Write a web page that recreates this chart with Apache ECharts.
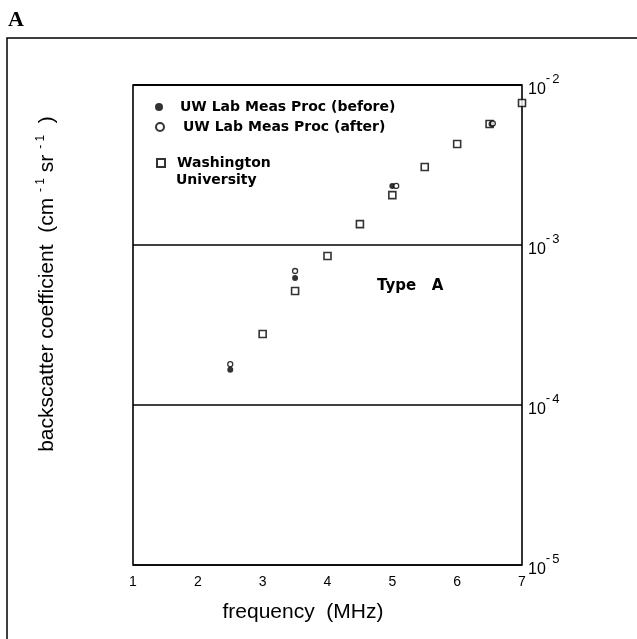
<!DOCTYPE html>
<html>
<head>
<meta charset="utf-8">
<script src="https://cdn.jsdelivr.net/npm/echarts@6/dist/echarts.min.js"></script>
<style>
  html, body { margin: 0; padding: 0; background: #fff; }
  #chart { width: 637px; height: 639px; }
</style>
</head>
<body>
<div id="chart"></div>
<script>
// frequency (MHz) vs backscatter coefficient
var xTicks = [1, 2, 3, 4, 5, 6, 7]
var yDecades = [1e-5, 1e-4, 1e-3, 1e-2]

var uwBefore = [[2.5, 1.66e-4], [3.5, 6.22e-4], [5.0, 2.34e-3], [6.53, 5.7e-3]]
var uwAfter = [[2.5, 1.80e-4], [3.5, 6.88e-4], [5.06, 2.34e-3], [6.55, 5.75e-3]]
var washU = [
  [3.0, 2.78e-4], [3.5, 5.16e-4], [4.0, 8.53e-4], [4.5, 1.35e-3], [5.0, 2.05e-3],
  [5.5, 3.07e-3], [6.0, 4.28e-3], [6.5, 5.7e-3], [7.0, 7.72e-3]
]

var font = '"Liberation Sans", Arial, sans-serif'
var boldFont = '"DejaVu Sans", sans-serif'

var chart = echarts.init(document.getElementById('chart'))
var option = {
  backgroundColor: '#fff',
  animation: false,
  grid: {
    left: 133, right: 115, top: 85, bottom: 74,
    show: true, borderColor: '#000', borderWidth: 1.6, backgroundColor: 'transparent'
  },
  legend: [
    {
      left: 150, top: 95, itemWidth: 8, itemHeight: 8, itemGap: 0,
      textStyle: { fontFamily: boldFont, fontSize: 14, fontWeight: 'bold', color: '#000', padding: [0, 0, 0, 12] },
      data: ['UW Lab Meas Proc (before)']
    },
    {
      left: 150, top: 115, itemWidth: 8, itemHeight: 8, itemGap: 0,
      textStyle: { fontFamily: boldFont, fontSize: 14, fontWeight: 'bold', color: '#000', padding: [0, 0, 0, 14] },
      data: ['UW Lab Meas Proc (after)']
    },
    {
      left: 151, top: 151, itemWidth: 8, itemHeight: 8, itemGap: 0,
      textStyle: { fontFamily: boldFont, fontSize: 14, fontWeight: 'bold', color: '#000', padding: [0, 0, 0, 7] },
      formatter: function (name) { return name.split(' ')[0] },
      data: ['Washington University']
    }
  ],
  xAxis: {
    type: 'value', min: 1, max: 7, interval: 1,
    axisLine: { show: false }, axisTick: { show: false }, splitLine: { show: false },
    axisLabel: {
      margin: 10, color: '#000', fontFamily: font, fontSize: 14,
      formatter: function (v) { return xTicks.indexOf(v) >= 0 ? String(v) : '' }
    }
  },
  yAxis: {
    type: 'log', logBase: 10, min: yDecades[0], max: yDecades[yDecades.length - 1],
    position: 'right',
    axisLine: { show: false }, axisTick: { show: false },
    splitLine: { show: true, lineStyle: { color: '#000', width: 1.5 } },
    axisLabel: {
      margin: 6, color: '#000', fontFamily: font,
      formatter: function (v) {
        var n = Math.round(Math.log10(v))
        return '{a|10}{b|-}{c|' + Math.abs(n) + '}'
      },
      rich: {
        a: { fontFamily: font, fontSize: 16, color: '#000', padding: [9, 0, 0, 0] },
        b: { fontFamily: font, fontSize: 13, color: '#000', padding: [0, 2, 14, 0] },
        c: { fontFamily: font, fontSize: 13, color: '#000', padding: [0, 0, 12, 0] }
      }
    }
  },
  series: [
    {
      name: 'Washington University', type: 'scatter', data: washU,
      symbol: 'rect', symbolSize: 7,
      itemStyle: { color: '#fff', borderColor: '#000', borderWidth: 1.6 }
    },
    {
      name: 'UW Lab Meas Proc (before)', type: 'scatter', data: uwBefore,
      symbol: 'circle', symbolSize: 6,
      itemStyle: { color: '#000', borderColor: '#000', borderWidth: 0 }
    },
    {
      name: 'UW Lab Meas Proc (after)', type: 'scatter', data: uwAfter,
      symbol: 'circle', symbolSize: 5,
      itemStyle: { color: '#fff', borderColor: '#000', borderWidth: 1.3 }
    }
  ],
  graphic: [
    {
      type: 'rect', silent: true,
      shape: { x: 7, y: 38, width: 640, height: 610 },
      style: { fill: 'none', stroke: '#000', lineWidth: 1.5 }
    },
    {
      type: 'text', left: 8, top: 9,
      style: { text: 'A', font: 'bold 22px "Liberation Serif", serif', fill: '#000' }
    },
    {
      type: 'text', x: 176, y: 180,
      style: { text: 'University', font: 'bold 14px ' + boldFont, fill: '#000', verticalAlign: 'middle' }
    },
    {
      type: 'text', x: 377, y: 286,
      style: { text: 'Type   A', font: 'bold 15px ' + boldFont, fill: '#000', verticalAlign: 'middle' }
    },
    {
      type: 'text', x: 303, y: 612,
      style: { text: 'frequency  (MHz)', font: '21px ' + font, fill: '#000', align: 'center', verticalAlign: 'middle' }
    },
    {
      type: 'text', x: 47, y: 284, rotation: Math.PI / 2,
      style: {
        text: 'backscatter coefficient  (cm {s|- 1} sr {s|- 1}  )',
        font: '21px ' + font, fill: '#000', align: 'center', verticalAlign: 'middle',
        rich: { s: { fontFamily: font, fontSize: 12, fill: '#000', padding: [0, 0, 12, 0] } }
      }
    }
  ]
}
chart.setOption(option)
</script>
</body>
</html>
